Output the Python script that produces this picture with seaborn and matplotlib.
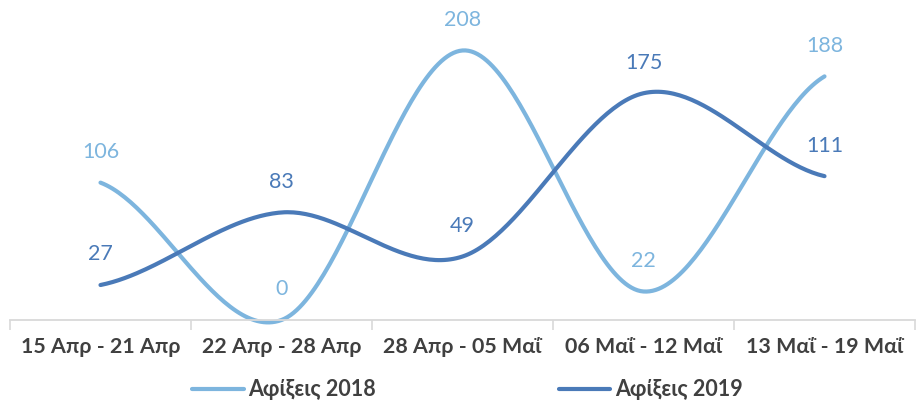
import numpy as np
import pandas as pd
import matplotlib
matplotlib.use("Agg")
import matplotlib.pyplot as plt
import seaborn as sns

# data
weeks = ["15 Απρ - 21 Απρ", "22 Απρ - 28 Απρ", "28 Απρ - 05 Μαΐ",
         "06 Μαΐ - 12 Μαΐ", "13 Μαΐ - 19 Μαΐ"]
arrivals_2018 = [106, 0, 208, 22, 188]
arrivals_2019 = [27, 83, 49, 175, 111]
series_names = ["Αφίξεις 2018", "Αφίξεις 2019"]
colors = ["#7DB5DE", "#4A7AB8"]

sns.set_theme(style="white")
plt.rcParams["font.family"] = ["Lato", "DejaVu Sans"]


def smooth(ys, n=60):
    # Excel-like smoothed line (Catmull-Rom through the points)
    ys = np.asarray(ys, dtype=float)
    p = np.concatenate([[ys[0]], ys, [ys[-1]]])
    xs_out, ys_out = [], []
    for i in range(len(ys) - 1):
        p0, p1, p2, p3 = p[i], p[i + 1], p[i + 2], p[i + 3]
        t = np.linspace(0, 1, n, endpoint=False)
        c1 = p1 + (p2 - p0) / 6
        c2 = p2 - (p3 - p1) / 6
        y = ((1 - t) ** 3 * p1 + 3 * (1 - t) ** 2 * t * c1
             + 3 * (1 - t) * t ** 2 * c2 + t ** 3 * p2)
        xs_out.extend(i + t)
        ys_out.extend(y)
    xs_out.append(len(ys) - 1)
    ys_out.append(ys[-1])
    return np.array(xs_out), np.array(ys_out)


frames = []
for name, vals in zip(series_names, [arrivals_2018, arrivals_2019]):
    sx, sy = smooth(vals)
    frames.append(pd.DataFrame({"x": sx, "y": sy, "series": name}))
df = pd.concat(frames, ignore_index=True)

fig = plt.figure(figsize=(9.18, 4.05), dpi=100)
ax = fig.add_axes([10 / 918, 1 - 320 / 405, 905 / 918, 311 / 405])

sns.lineplot(data=df, x="x", y="y", hue="series", palette=colors,
             linewidth=3, ax=ax, sort=False, estimator=None, legend=False)

# data labels
for vals, c in zip([arrivals_2018, arrivals_2019], colors):
    for i, v in enumerate(vals):
        ax.annotate(str(v), (i, v), xytext=(0, 22), textcoords="offset points",
                    ha="center", va="center", fontsize=15.5, color=c)

ax.set_xlim(-0.5, len(weeks) - 0.5)
ax.set_ylim(0, 240)
ax.set_xticks(range(len(weeks)))
ax.set_xticklabels(weeks, fontsize=15.4, fontweight="bold", color="#404040")
ax.set_xticks(np.arange(-0.5, len(weeks)), minor=True)
ax.tick_params(axis="x", which="major", length=0, pad=12)
ax.tick_params(axis="x", which="minor", length=7, width=1.2, color="#D9D9D9",
               direction="out", bottom=True)
ax.set_yticks([])
ax.set_xlabel("")
ax.set_ylabel("")
for s in ["top", "left", "right"]:
    ax.spines[s].set_visible(False)
ax.spines["bottom"].set_color("#D9D9D9")
ax.spines["bottom"].set_linewidth(1.3)
for line in ax.lines:
    line.set_clip_on(False)

handles = [plt.Line2D([], [], color=c, linewidth=3) for c in colors]
fig.legend(handles, series_names, loc="center", bbox_to_anchor=(0.509, 1 - 390 / 405),
           ncol=2, frameon=False, handlelength=2.4, handletextpad=0.2,
           columnspacing=8.5, prop={"weight": "bold", "size": 15.5})
for t in fig.legends[0].get_texts():
    t.set_color("#404040")

fig.savefig("out.png", dpi=100)
